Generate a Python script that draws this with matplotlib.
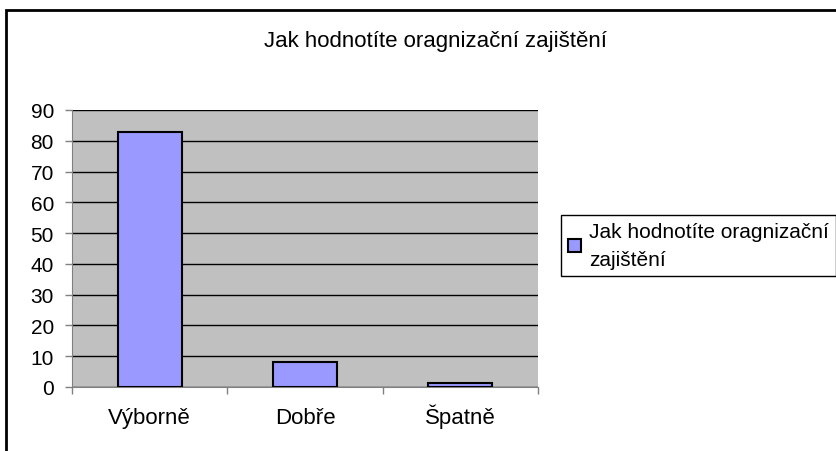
import matplotlib.pyplot as plt
from matplotlib.patches import Rectangle

plt.rcParams['font.family'] = ['Liberation Sans', 'DejaVu Sans']

TITLE = "Jak hodnotíte oragnizační zajištění"
categories = ['Výborně', 'Dobře', 'Špatně']
values = [83, 8, 1.4]
yticks = [0, 10, 20, 30, 40, 50, 60, 70, 80, 90]

fig = plt.figure(figsize=(8.36, 4.52), dpi=100)
fig.patch.set_facecolor('white')

# outer chart frame (runs off right and bottom edges like the original)
fig.patches.append(Rectangle((6 / 836, -0.05), 1.0, 1 - 11 / 452 + 0.05,
                             transform=fig.transFigure, fill=False,
                             edgecolor='black', linewidth=2))

ax = fig.add_axes([72 / 836, 1 - 388 / 452, 466 / 836, 277 / 452])
ax.set_facecolor('#C0C0C0')
x = range(len(categories))
ax.bar(x, values, width=0.41, color='#9999FF', edgecolor='black',
       linewidth=1.5, zorder=3, label=TITLE)

ax.set_xlim(-0.5, len(categories) - 0.5)
ax.set_ylim(0, 90)
ax.set_yticks(yticks)
ax.set_yticklabels([str(t) for t in yticks], fontsize=15)
ax.yaxis.grid(True, color='black', linewidth=1, zorder=1)
ax.set_axisbelow(True)

ax.set_xticks([i for i in x])
ax.set_xticklabels(categories, fontsize=16, va='baseline')
ax.set_xticks([-0.5, 0.5, 1.5, 2.5], minor=True)
ax.tick_params(axis='x', which='major', length=0, pad=26)
ax.tick_params(axis='x', which='minor', length=5, color='#808080', width=1)
ax.tick_params(axis='y', length=5, color='#808080', width=1, pad=8)

for side in ['top', 'right']:
    ax.spines[side].set_visible(False)
ax.spines['left'].set_color('#808080')
ax.spines['bottom'].set_color('#808080')

fig.text(435 / 836, 1 - 42 / 452, TITLE, ha='center', va='center', fontsize=16)

handles, labels = ax.get_legend_handles_labels()
leg = fig.legend(handles, ["Jak hodnotíte oragnizační\nzajištění"],
                 loc='upper left', bbox_to_anchor=(561 / 836, 1 - 216 / 452),
                 fontsize=15, frameon=True, fancybox=False, shadow=False,
                 handlelength=0.6, handleheight=0.6, handletextpad=0.4,
                 borderpad=0.35, borderaxespad=0)
leg.get_frame().set_edgecolor('black')
leg.get_frame().set_linewidth(1)
leg.get_frame().set_alpha(1)
for t in leg.get_texts():
    t.set_linespacing(1.55)

fig.savefig('out.png', dpi=100)
